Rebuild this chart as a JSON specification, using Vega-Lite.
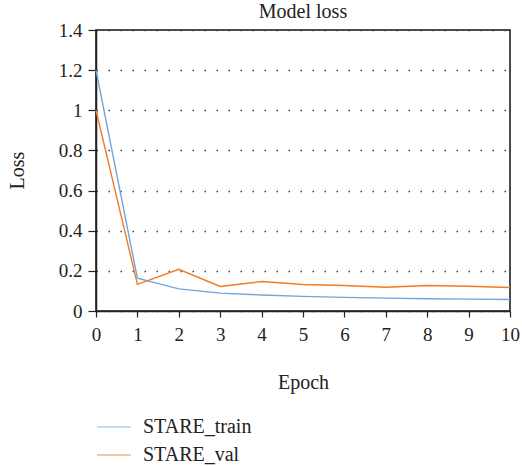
{
  "$schema": "https://vega.github.io/schema/vega-lite/v6.json",
  "width": 414,
  "height": 281,
  "autosize": "none",
  "padding": {"left": 96, "top": 30, "right": 12, "bottom": 155},
  "background": "white",
  "title": {"text": "Model loss", "font": "Liberation Serif", "fontSize": 20, "fontWeight": "normal", "color": "#222", "anchor": "middle", "baseline": "alphabetic", "offset": 1, "dy": 18},
  "data": {"values": [
    {"epoch": 0, "loss": 1.2, "series": "STARE_train"},
    {"epoch": 1, "loss": 0.163, "series": "STARE_train"},
    {"epoch": 2, "loss": 0.11, "series": "STARE_train"},
    {"epoch": 3, "loss": 0.089, "series": "STARE_train"},
    {"epoch": 4, "loss": 0.08, "series": "STARE_train"},
    {"epoch": 5, "loss": 0.073, "series": "STARE_train"},
    {"epoch": 6, "loss": 0.068, "series": "STARE_train"},
    {"epoch": 7, "loss": 0.064, "series": "STARE_train"},
    {"epoch": 8, "loss": 0.061, "series": "STARE_train"},
    {"epoch": 9, "loss": 0.059, "series": "STARE_train"},
    {"epoch": 10, "loss": 0.057, "series": "STARE_train"},
    {"epoch": 0, "loss": 1.0, "series": "STARE_val"},
    {"epoch": 1, "loss": 0.133, "series": "STARE_val"},
    {"epoch": 2, "loss": 0.208, "series": "STARE_val"},
    {"epoch": 3, "loss": 0.122, "series": "STARE_val"},
    {"epoch": 4, "loss": 0.147, "series": "STARE_val"},
    {"epoch": 5, "loss": 0.132, "series": "STARE_val"},
    {"epoch": 6, "loss": 0.127, "series": "STARE_val"},
    {"epoch": 7, "loss": 0.118, "series": "STARE_val"},
    {"epoch": 8, "loss": 0.127, "series": "STARE_val"},
    {"epoch": 9, "loss": 0.123, "series": "STARE_val"},
    {"epoch": 10, "loss": 0.117, "series": "STARE_val"}
  ]},
  "mark": {"type": "line", "strokeWidth": 1.4},
  "encoding": {
    "x": {
      "field": "epoch", "type": "quantitative",
      "scale": {"domain": [0, 10], "nice": false, "zero": false},
      "axis": {
        "title": "Epoch", "values": [0,1,2,3,4,5,6,7,8,9,10], "grid": false,
        "labelFont": "Liberation Serif", "labelFontSize": 19, "labelColor": "#222", "labelPadding": 8,
        "labelFlush": false, "labelOverlap": false,
        "tickSize": 6, "tickColor": "#222", "tickWidth": 1.2,
        "domainColor": "#222", "domainWidth": 1.5,
        "titleFont": "Liberation Serif", "titleFontSize": 20, "titleFontWeight": "normal", "titleColor": "#222",
        "titleY": 77, "titleBaseline": "alphabetic"
      }
    },
    "y": {
      "field": "loss", "type": "quantitative",
      "scale": {"domain": [0, 1.4], "nice": false},
      "axis": {
        "title": "Loss", "values": [0, 0.2, 0.4, 0.6, 0.8, 1, 1.2, 1.4],
        "labelExpr": "datum.value === 0 ? '0' : (datum.value === 1 ? '1' : format(datum.value, '.1f'))",
        "grid": true, "gridDash": [1.5, 10.5], "gridColor": "#444", "gridWidth": 1.3,
        "labelFont": "Liberation Serif", "labelFontSize": 19, "labelColor": "#222", "labelPadding": 6,
        "labelFlush": false, "labelOverlap": false,
        "tickSize": 8, "tickColor": "#222", "tickWidth": 1.2,
        "domainColor": "#222", "domainWidth": 1.5,
        "titleFont": "Liberation Serif", "titleFontSize": 20, "titleFontWeight": "normal", "titleColor": "#222",
        "titleAngle": -90, "titleX": -79, "titleY": 140, "titleAlign": "center", "titleBaseline": "middle"
      }
    },
    "color": {
      "field": "series", "type": "nominal",
      "scale": {"domain": ["STARE_train", "STARE_val"], "range": ["#6fa6dd", "#f57a22"]},
      "legend": {
        "title": null, "orient": "none", "legendX": 0, "legendY": 379,
        "symbolType": "stroke", "symbolSize": 1156, "symbolStrokeWidth": 1.5, "symbolOpacity": 0.55,
        "labelFont": "Liberation Serif", "labelFontSize": 20, "labelColor": "#222", "labelOffset": 11,
        "rowPadding": -1
      }
    }
  },
  "config": {
    "view": {"stroke": "#111", "strokeWidth": 1.5}
  }
}
